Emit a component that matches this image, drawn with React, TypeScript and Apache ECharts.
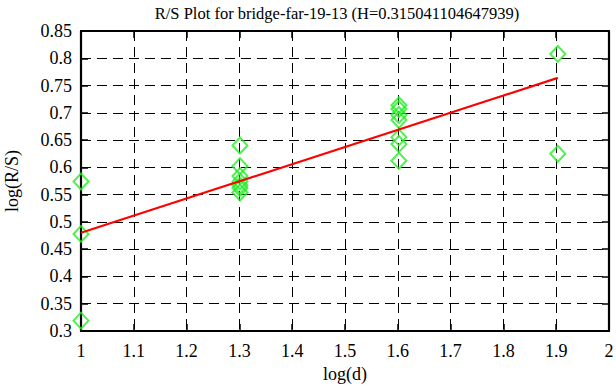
import React, { useEffect, useRef } from "react";
import * as echarts from "echarts";

const titleText = "R/S Plot for bridge-far-19-13 (H=0.315041104647939)";
const xName = "log(d)";
const yName = "log(R/S)";

// x positions: log10 of window sizes 10, 20, 40, 80
const xLevels = [1, 1.30103, 1.60206, 1.90309];
const yAtLevel0 = [0.574, 0.478, 0.319];
const yAtLevel1 = [0.64, 0.602, 0.584, 0.574, 0.567, 0.562, 0.554];
const yAtLevel2 = [0.714, 0.707, 0.696, 0.687, 0.655, 0.643, 0.612];
const yAtLevel3 = [0.808, 0.625];

const fitX = [1, 1.90309];
const fitY = [0.48, 0.764];

const FONT = "Liberation Serif";

export default function App() {
  const ref = useRef<HTMLDivElement>(null);
  useEffect(() => {
    if (!ref.current) return;
    const chart = echarts.init(ref.current, undefined, { renderer: "svg" });
    const groups = [yAtLevel0, yAtLevel1, yAtLevel2, yAtLevel3];
    const scatterData: number[][] = [];
    groups.forEach((g, i) => g.forEach((v) => scatterData.push([xLevels[i], v])));
    const fmt = (v: number) => String(parseFloat(v.toFixed(2)));
    const gridLine = { show: true, lineStyle: { color: "#000", type: [10, 6] as any, width: 1 } };
    const axisLine = { show: true, onZero: false, lineStyle: { color: "#000", width: 2.2 } };
    const tick = { show: true, inside: true, length: 7, lineStyle: { color: "#000", width: 1.5 } };
    const labelStyle = { fontFamily: FONT, fontSize: 18, color: "#000" };
    chart.setOption({
      animation: false,
      backgroundColor: "#fff",
      grid: { left: 81, right: 7, top: 31, bottom: 56, containLabel: false, outerBoundsMode: "none" },
      graphic: [
        {
          type: "text",
          x: 337,
          y: 13,
          style: {
            text: titleText,
            textAlign: "center",
            textVerticalAlign: "middle",
            fontFamily: FONT,
            fontSize: 16.5,
            fill: "#000",
          },
        },
      ],
      xAxis: [
        {
          type: "value",
          min: 1,
          max: 2,
          interval: 0.1,
          position: "bottom",
          name: xName,
          nameLocation: "middle",
          nameGap: 32,
          nameTextStyle: labelStyle,
          axisLine,
          axisTick: tick,
          axisLabel: { ...labelStyle, margin: 11, formatter: fmt },
          splitLine: gridLine,
        },
        {
          type: "value",
          min: 1,
          max: 2,
          interval: 0.1,
          position: "top",
          axisLine,
          axisTick: tick,
          axisLabel: { show: false },
          splitLine: { show: false },
        },
      ],
      yAxis: [
        {
          type: "value",
          min: 0.3,
          max: 0.85,
          interval: 0.05,
          position: "left",
          name: yName,
          nameLocation: "middle",
          nameRotate: 90,
          nameGap: 60,
          nameTextStyle: labelStyle,
          axisLine,
          axisTick: tick,
          axisLabel: { ...labelStyle, margin: 9, formatter: fmt },
          splitLine: gridLine,
        },
        {
          type: "value",
          min: 0.3,
          max: 0.85,
          interval: 0.05,
          position: "right",
          axisLine,
          axisTick: tick,
          axisLabel: { show: false },
          splitLine: { show: false },
        },
      ],
      series: [
        {
          type: "scatter",
          data: scatterData,
          symbol: "diamond",
          symbolSize: [15, 16],
          itemStyle: { color: "rgba(0,0,0,0)", borderColor: "#22ee22", borderWidth: 2 },
          z: 3,
        },
        {
          type: "line",
          data: fitX.map((x, i) => [x, fitY[i]]),
          showSymbol: false,
          lineStyle: { color: "#ff0000", width: 2.2 },
          z: 4,
        },
      ],
    });
    return () => chart.dispose();
  }, []);
  return <div ref={ref} style={{ position: "fixed", left: 0, top: 0, width: 616, height: 387 }} />;
}
